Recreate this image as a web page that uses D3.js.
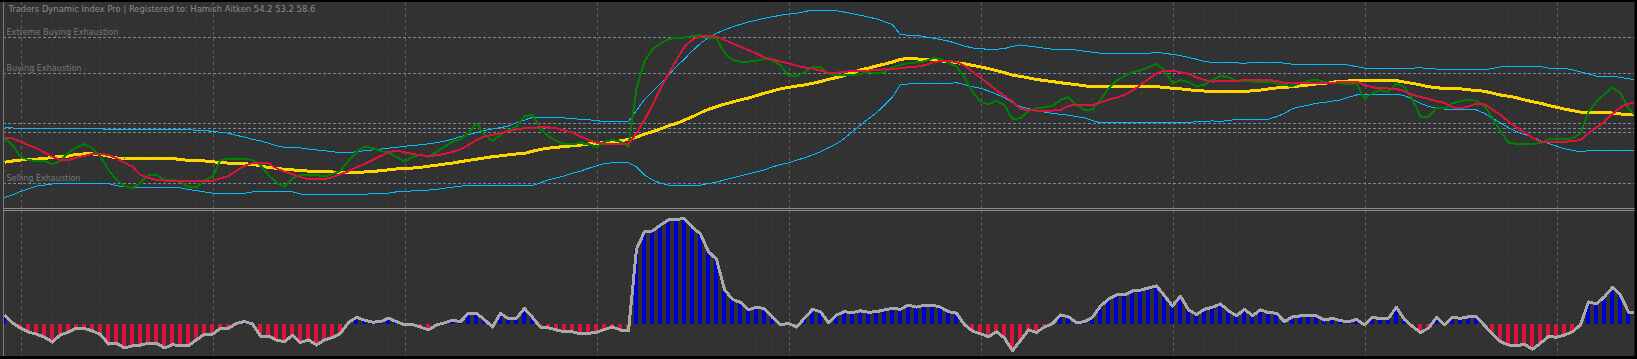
<!DOCTYPE html>
<html><head><meta charset="utf-8">
<script src="https://cdn.jsdelivr.net/npm/d3@7/dist/d3.min.js"></script>
<style>html,body{margin:0;padding:0;background:#000;overflow:hidden}svg{display:block}</style>
</head><body><svg id="chart" width="1637" height="359"></svg>
<script>
// ---------------- DATA (one value per bar) ----------------
const titleText = "Traders Dynamic Index Pro | Registered to: Hamish Aitken 54.2 53.2 58.6";

// RSI price line (green)
const rsiPriceLine = [46.7,44.5,40.7,39.6,39.3,39.3,38.3,39.3,42.0,43.8,
 44.8,43.5,40.9,36.4,33.1,31.1,30.4,32.2,34.7,34.7,
 33.1,33.1,32.5,30.7,30.7,32.9,34.2,39.6,40.0,40.0,
 40.0,39.6,38.0,34.7,32.2,30.9,33.6,34.7,34.7,34.7,
 34.2,35.0,36.1,39.4,42.3,44.0,43.5,42.6,42.0,40.7,
 39.0,40.6,41.3,40.7,42.3,44.0,45.6,46.4,48.4,51.6,
 48.0,45.9,47.8,49.4,50.5,54.0,54.4,50.0,47.3,45.9,
 44.8,44.9,45.1,44.9,43.8,45.6,46.2,45.6,44.0,63.1,
 71.8,75.9,77.8,79.1,79.7,79.7,80.2,80.5,79.7,79.5,
 74.7,72.4,71.8,71.8,72.1,72.7,72.4,70.5,67.4,67.1,
 68.3,70.2,70.2,67.8,67.4,67.4,67.4,67.8,68.4,68.0,
 68.4,70.0,70.7,71.3,71.6,71.9,72.9,72.8,71.5,70.2,
 66.7,62.0,58.7,57.9,59.0,57.6,53.0,53.3,55.7,56.5,
 56.9,57.3,59.3,60.2,57.6,56.0,56.2,59.3,63.1,65.6,
 67.1,68.4,68.9,70.0,71.0,69.1,64.7,65.8,65.1,63.8,
 64.3,65.8,67.1,66.7,65.6,65.4,65.3,65.3,65.3,64.7,
 64.1,63.9,64.7,65.6,65.8,65.2,64.8,64.7,64.5,64.7,
 59.8,61.5,62.5,61.9,64.7,63.4,59.5,53.8,53.8,56.7,
 56.5,58.2,58.9,59.3,59.0,57.3,53.3,48.9,45.3,44.9,
 44.9,44.9,45.1,46.4,46.4,46.5,46.7,48.4,55.4,58.7,
 61.2,63.4,61.5,56.5,53.6];

// Trade signal line (red)
const tradeSignalLine = [46.7,46.7,45.6,44.5,43.5,42.1,40.7,39.6,39.6,40.4,
 41.0,41.6,41.6,41.3,40.2,38.7,37.4,34.7,33.8,33.1,
 32.9,32.8,32.8,32.8,32.8,32.7,32.8,33.6,34.4,36.1,
 37.7,38.7,38.7,38.5,36.9,35.8,35.0,34.0,33.4,33.4,
 33.4,34.0,35.0,36.0,37.2,38.3,39.6,40.9,42.1,42.7,
 42.2,41.6,41.2,40.9,41.2,41.6,42.3,43.1,44.5,46.2,
 47.3,47.9,48.4,49.0,49.7,50.0,50.2,50.3,50.3,50.0,
 49.2,48.6,47.3,46.2,45.3,44.9,44.9,44.9,44.9,48.4,
 52.7,57.6,63.1,67.8,72.4,76.7,79.1,80.0,80.2,80.0,
 78.9,77.8,76.7,75.6,74.5,73.2,72.6,71.8,71.3,70.5,
 69.9,69.6,68.9,68.2,68.2,68.4,68.9,68.9,68.9,69.1,
 69.3,69.5,69.6,70.0,70.2,70.6,71.5,72.0,72.1,71.7,
 70.5,68.5,66.6,64.5,62.5,60.6,58.7,56.4,55.9,55.8,
 55.8,55.8,56.0,57.4,57.6,57.6,57.6,58.5,59.4,60.0,
 61.0,62.3,64.2,66.1,68.0,68.8,68.8,68.4,67.8,66.7,
 65.8,65.3,65.4,65.5,65.6,65.7,65.8,65.8,65.8,65.5,
 64.9,64.9,64.9,64.9,64.9,64.9,64.9,65.1,65.3,65.3,
 64.2,63.4,63.2,63.0,62.9,62.1,61.0,60.3,59.6,58.9,
 58.3,56.9,56.5,57.2,58.0,57.9,56.2,54.4,52.2,50.3,
 48.6,46.9,45.6,45.6,45.6,45.6,45.8,46.2,48.4,50.2,
 52.2,54.7,56.9,58.1,58.2];

// Market base line (yellow)
const marketBaseLine = [38.9,39.3,39.6,39.9,39.9,40.1,40.5,40.8,40.9,41.5,
 41.6,41.6,41.4,40.9,40.3,40.1,40.0,40.0,40.0,40.0,
 40.0,40.0,39.9,39.4,39.3,39.3,39.0,38.9,38.6,38.5,
 38.4,38.2,37.7,37.2,36.9,36.6,36.4,36.1,36.0,35.9,
 35.8,35.7,35.6,35.5,35.6,35.7,35.9,36.1,36.4,36.7,
 36.8,37.0,37.2,37.6,37.9,38.3,38.6,39.1,39.5,39.9,
 40.3,40.7,41.0,41.3,41.6,41.8,42.5,43.1,43.5,43.8,
 44.0,44.3,44.5,44.9,45.1,45.3,45.6,45.9,46.4,47.1,
 48.1,48.9,49.8,50.8,51.6,52.7,53.8,55.1,56.2,57.1,
 57.9,58.6,59.3,59.9,60.7,61.5,62.2,62.9,63.4,63.8,
 64.2,64.7,65.3,66.0,66.6,67.3,68.2,69.1,69.7,70.4,
 71.0,71.7,72.6,72.8,72.7,72.6,72.4,72.1,71.8,71.5,
 71.1,70.6,70.1,69.5,68.9,68.2,67.4,67.0,66.5,66.0,
 65.6,65.3,64.9,64.6,64.3,63.9,63.6,63.6,63.6,63.6,
 63.6,63.6,63.6,63.6,63.6,63.4,63.1,62.9,62.6,62.4,
 62.2,62.1,62.0,62.0,62.0,62.0,62.3,62.5,62.9,63.2,
 63.4,63.6,63.9,64.2,64.5,64.7,65.1,65.3,65.5,65.6,
 65.6,65.6,65.6,65.6,65.6,65.1,64.7,64.2,63.6,63.3,
 63.0,62.9,62.9,62.6,62.4,62.1,61.5,60.9,60.5,60.0,
 59.3,58.7,58.2,57.5,56.9,56.3,55.8,55.3,55.1,55.1,
 55.1,55.0,54.7,54.4,54.4];

// Volatility band, upper (blue)
const upperBand = [50.2,50.1,50.0,49.9,49.8,49.8,49.8,49.8,49.8,49.8,
 49.8,49.8,49.8,49.7,49.5,49.5,49.5,49.5,49.5,49.5,
 49.5,49.5,49.5,49.5,49.4,49.3,49.0,48.7,48.4,47.7,
 47.1,46.4,45.9,45.1,44.3,43.8,43.7,43.6,43.2,42.9,
 42.7,42.3,42.1,42.1,42.3,42.7,42.9,43.2,43.5,43.8,
 44.1,44.4,44.6,44.9,45.3,45.8,46.4,47.3,47.9,48.6,
 49.3,49.8,50.2,50.8,51.8,52.7,53.6,53.6,53.6,53.5,
 53.4,53.1,53.0,52.8,52.5,52.2,52.2,52.2,52.2,55.8,
 59.5,62.0,64.7,67.4,70.2,72.7,75.4,77.8,79.7,81.1,
 82.2,83.2,84.0,84.8,85.4,86.0,86.5,87.0,87.4,87.6,
 88.2,88.7,88.7,88.7,88.5,88.0,87.5,87.0,86.4,85.8,
 84.9,83.9,80.6,80.5,80.5,80.0,79.5,79.1,78.5,77.8,
 76.9,76.3,76.0,75.9,75.9,76.1,76.8,77.3,76.9,76.6,
 76.2,75.9,75.9,75.9,75.6,75.2,74.9,74.6,74.5,74.5,
 74.5,74.5,74.5,74.5,74.9,74.5,74.2,73.8,73.2,72.6,
 71.9,71.5,71.5,71.5,71.4,71.3,71.5,71.6,71.6,71.6,
 71.3,71.0,71.0,71.0,71.0,71.0,71.0,71.0,70.7,70.2,
 69.7,69.6,69.6,69.6,69.6,69.6,69.7,69.8,69.6,69.4,
 69.4,69.4,69.4,69.4,69.4,69.2,69.6,70.1,70.2,70.2,
 70.2,70.2,70.2,69.7,69.6,69.6,69.1,68.5,67.8,67.1,
 67.1,67.0,66.7,66.2,65.8];

// Volatility band, lower (blue)
const lowerBand = [27.3,28.2,29.3,30.2,31.1,31.4,31.8,32.0,32.0,32.0,
 32.0,32.0,32.0,31.9,31.2,30.9,30.7,30.6,30.5,30.5,
 30.5,30.5,30.5,30.0,29.6,29.2,28.8,28.7,28.7,28.7,
 28.7,29.2,29.2,29.2,29.2,29.2,29.2,28.5,28.4,28.4,
 28.4,28.4,28.4,28.4,28.4,28.4,28.6,28.7,28.8,29.2,
 29.4,29.5,29.7,29.8,30.0,30.4,30.7,31.1,31.2,31.2,
 31.2,31.2,31.2,31.2,31.2,31.2,31.2,32.2,33.1,33.8,
 34.4,35.3,36.0,36.9,37.7,38.5,38.7,38.7,38.7,37.4,
 34.7,33.1,32.0,31.4,31.4,31.4,31.4,31.4,31.9,32.4,
 33.1,33.8,34.4,35.1,35.7,36.4,37.4,38.1,38.7,39.6,
 40.3,41.3,42.3,43.7,44.9,46.7,48.9,51.1,53.1,55.1,
 57.6,60.2,64.4,64.5,64.5,64.6,64.7,64.7,64.7,64.9,
 64.3,63.6,63.1,62.2,61.2,60.0,58.4,57.1,56.4,55.8,
 55.3,54.9,54.6,54.3,53.8,53.4,52.5,51.8,51.8,51.8,
 51.8,51.8,51.8,51.8,51.8,51.8,51.8,51.8,51.8,52.3,
 52.3,52.4,52.3,52.5,53.0,53.0,53.0,53.0,53.0,53.8,
 54.9,56.4,57.1,57.6,58.2,58.5,58.9,59.3,60.2,60.9,
 61.1,61.1,61.1,61.1,61.1,60.7,59.5,58.2,57.1,56.7,
 56.3,56.1,56.0,56.0,56.0,54.9,53.3,51.8,50.2,48.9,
 48.0,47.1,45.9,45.0,44.2,43.3,42.8,42.3,42.7,42.7,
 42.7,42.7,42.7,42.7,42.7];

// Histogram (lower window)
const histogram = [3,0.4,-1.4,-2.7,-3.4,-4.4,-6,-3.6,-2.7,-1.4,
 -1.5,-2.3,-3.5,-6.7,-6.4,-8,-7.3,-7,-6.4,-6.4,
 -8,-6.9,-7.2,-7.2,-5.3,-3.4,-3.4,-1.4,-1.4,0.2,
 0.8,0,-4,-4,-5.4,-5.9,-3.7,-6.2,-5.3,-7,
 -5.3,-4.5,-3.1,0.5,2.2,1.3,0.6,0.8,1.9,0.8,
 -0.3,-0.2,-1,-2,-0.3,0.4,1.3,0.8,3.6,3.6,
 1.4,-1,3.6,1.7,1.9,5.2,2.2,-1.1,-1.3,-2,
 -2.6,-2.6,-3.3,-3.1,-2.8,-1.8,-1,-2,-2.3,25,
 30.8,31,33,34.7,34.9,35.1,32.2,30,24.1,21.6,
 11.5,8.2,7.2,4.7,5.6,5.1,2.2,-0.3,0.2,-1,
 1.9,4.9,4.1,0.4,3,4.1,3.8,4.4,3.9,4.1,
 4.7,5.2,4.9,6.3,5.6,6.3,6.3,5.6,4.1,3.6,
 -0.2,-2.4,-3.3,-4.2,-2.6,-4.7,-8.9,-5.5,-2,-2.8,
 -1,0.1,3,2.4,0.4,0.8,2.2,6,8.3,9.7,
 9.7,11,11.3,12,12.7,9.4,6,9.3,4.7,3.2,
 4.9,5.6,6.7,4.4,2.7,4.9,2.8,4.7,3.8,3.6,
 0.8,2.4,2.7,2.7,2.7,1.3,1.9,1.1,0.8,1.5,
 -0.3,2.3,1.7,1.9,5.6,1.5,-0.8,-2.8,-1.4,2.2,
 -0.3,2.2,1.9,2.4,2.4,-0.5,-3.3,-5.9,-7,-7.2,
 -6.8,-8.4,-6.4,-4.2,-4.4,-3.7,-2.6,-0.3,7.4,6.7,
 9.1,12.2,9.6,4,3.6];

// Horizontal levels of the upper window
const levelValues = [80, 68, 51.6, 50, 48.7, 32];
const levelLabels = ["Extreme Buying Exhaustion", "Buying Exhaustion", "", "", "", "Selling Exhaustion"];

// ---------------- DRAWING ----------------
const W = 1637, H = 359;
const BG = "#323232";
const svg = d3.select("#chart");
const FONT = "'DejaVu Sans Condensed', 'DejaVu Sans', sans-serif";

const left = 3, right = 1634;
const top1 = 2, bot1 = 208.5;     // upper window
const top2 = 210.5, bot2 = 356;   // lower window

const x = d3.scaleLinear().domain([0, 203]).range([4.5, 1628.5]);
const yTop = d3.scaleLinear().domain([32, 68]).range([183.3, 73.3]);
const yBot = d3.scaleLinear().domain([0, 10]).range([324, 294]);

svg.append("rect").attr("width", W).attr("height", H).attr("fill", BG);

const defs = svg.append("defs");
defs.append("clipPath").attr("id", "clipTop").append("rect")
  .attr("x", left + 0.5).attr("y", top1).attr("width", right - left - 0.5).attr("height", bot1 - top1 - 0.5);
defs.append("clipPath").attr("id", "clipBot").append("rect")
  .attr("x", left + 0.5).attr("y", top2 + 0.5).attr("width", right - left - 0.5).attr("height", bot2 - top2 - 0.5);

// vertical grid (both windows)
const idx = d3.range(0, 205, 2);
function drawGrid(g, y0, y1) {
  g.selectAll("line.minor").data(idx.filter(i => (i - 2) % 24 !== 0)).join("line")
    .attr("x1", d => Math.round(x(d)) + 0.5).attr("x2", d => Math.round(x(d)) + 0.5)
    .attr("y1", y0).attr("y2", y1)
    .attr("stroke", "#3c3c3c").attr("stroke-width", 1).attr("stroke-dasharray", "3,3");
  g.selectAll("line.major").data(idx.filter(i => (i - 2) % 24 === 0)).join("line")
    .attr("x1", d => Math.round(x(d)) + 0.5).attr("x2", d => Math.round(x(d)) + 0.5)
    .attr("y1", y0).attr("y2", y1)
    .attr("stroke", "#5f5f5f").attr("stroke-width", 1).attr("stroke-dasharray", "3,3");
}
const gTop = svg.append("g").attr("clip-path", "url(#clipTop)");
const gBot = svg.append("g").attr("clip-path", "url(#clipBot)");
drawGrid(gTop.append("g"), top1, bot1);
drawGrid(gBot.append("g"), top2, bot2);

// level lines
gTop.append("g").selectAll("line").data(levelValues).join("line")
  .attr("x1", left).attr("x2", right)
  .attr("y1", d => Math.round(yTop(d)) + 0.5).attr("y2", d => Math.round(yTop(d)) + 0.5)
  .attr("stroke", "#7a8899").attr("stroke-width", 1).attr("stroke-dasharray", "3,2");

// series lines
const line = d3.line().x((d, i) => x(i)).y(d => yTop(d));
function addLine(data, color, width) {
  gTop.append("path").datum(data).attr("d", line)
    .attr("fill", "none").attr("stroke", color).attr("stroke-width", width)
    .attr("stroke-linejoin", "round").attr("shape-rendering", "crispEdges");
}
addLine(upperBand, "#00bfff", 1);
addLine(lowerBand, "#00bfff", 1);
addLine(marketBaseLine, "#ffd700", 3);
addLine(rsiPriceLine, "#008000", 2);
addLine(tradeSignalLine, "#dc143c", 2);

// histogram bars
gBot.append("g").selectAll("rect").data(histogram).join("rect")
  .attr("x", (d, i) => Math.round(x(i) - 2.5))
  .attr("width", 4)
  .attr("y", d => Math.min(yBot(d), yBot(0)))
  .attr("height", d => Math.abs(yBot(d) - yBot(0)))
  .attr("fill", d => d >= 0 ? "#0000cd" : "#dc143c")
  .attr("shape-rendering", "crispEdges");
gBot.append("path").datum(histogram)
  .attr("d", d3.line().x((d, i) => x(i)).y(d => yBot(d)))
  .attr("fill", "none").attr("stroke", "#a9a9a9").attr("stroke-width", 3)
  .attr("stroke-linejoin", "round").attr("shape-rendering", "crispEdges");

// texts
function fitText(sel, target) {
  const w = sel.node().getComputedTextLength();
  const fs = parseFloat(sel.attr("font-size"));
  if (w > 0) sel.attr("font-size", (fs * target / w).toFixed(2));
}
const title = svg.append("text").attr("x", 8.5).attr("y", 11.5)
  .attr("font-family", FONT).attr("font-size", 10).attr("fill", "#8c8c8c").text(titleText);
fitText(title, 307);

const labelWidths = {"Extreme Buying Exhaustion": 112, "Buying Exhaustion": 75, "Selling Exhaustion": 74};
levelValues.forEach((v, k) => {
  if (!levelLabels[k]) return;
  const t = svg.append("text").attr("x", 6.5).attr("y", Math.round(yTop(v)) - 2.5)
    .attr("font-family", FONT).attr("font-size", 10).attr("fill", "#787878").text(levelLabels[k]);
  fitText(t, labelWidths[levelLabels[k]]);
});

// frame
svg.append("rect").attr("x", 0).attr("y", 0).attr("width", W).attr("height", 2).attr("fill", "#000");
svg.append("rect").attr("x", 0).attr("y", 356).attr("width", W).attr("height", 3).attr("fill", "#000");
svg.append("rect").attr("x", 1634.5).attr("y", 0).attr("width", 3).attr("height", H).attr("fill", "#000");
svg.append("line").attr("x1", 3.5).attr("x2", 3.5).attr("y1", 2).attr("y2", 356)
  .attr("stroke", "#7a7a7a").attr("stroke-width", 1);
svg.append("line").attr("x1", 3).attr("x2", 1634.5).attr("y1", 208.5).attr("y2", 208.5)
  .attr("stroke", "#8c8c8c").attr("stroke-width", 1);
svg.append("line").attr("x1", 3).attr("x2", 1634.5).attr("y1", 210.5).attr("y2", 210.5)
  .attr("stroke", "#8c8c8c").attr("stroke-width", 1);
</script>
</body></html>
